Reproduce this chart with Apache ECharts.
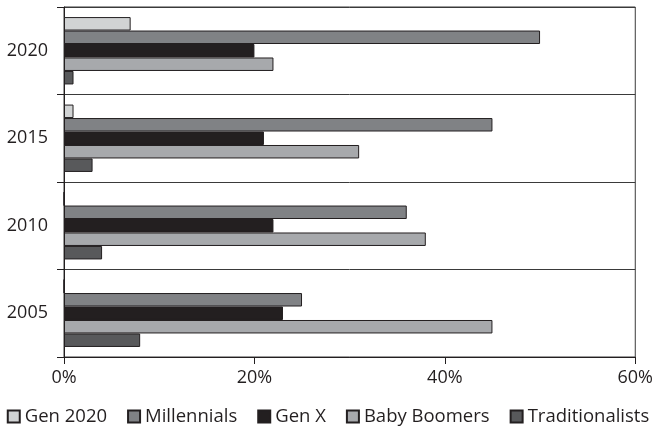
<!DOCTYPE html>
<html>
<head>
<meta charset="utf-8">
<script src="https://cdn.jsdelivr.net/npm/echarts@6/dist/echarts.min.js"></script>
<style>
  html, body { margin: 0; padding: 0; background: #fff; }
  #main { width: 656px; height: 440px; }
</style>
</head>
<body>
<div id="main"></div>
<script>
// 数据
var years = ['2020', '2015', '2010', '2005'];
var gen2020 = [7, 1, 0, 0];
var millennials = [50, 45, 36, 25];
var genX = [20, 21, 22, 23];
var babyBoomers = [22, 31, 38, 45];
var traditionalists = [1, 3, 4, 8];
var xTicks = [0, 20, 40, 60];

var ink = '#231f20';
var font = 'Open Sans';

function bar(name, data, color) {
    return {
        name: name,
        type: 'bar',
        data: data,
        barGap: '0%',
        barCategoryGap: '23%',
        itemStyle: {
            color: color,
            borderColor: ink,
            borderWidth: 1
        }
    };
}

var myChart = echarts.init(document.getElementById('main'));

var option = {
    animation: false,
    textStyle: { fontFamily: font, color: ink },
    grid: {
        left: 64,
        right: 20,
        top: 7,
        bottom: 83,
        show: true,
        borderColor: '#3a3a3a',
        borderWidth: 1
    },
    legend: {
        bottom: 9,
        left: 'center',
        itemWidth: 12,
        itemHeight: 12,
        itemGap: 20,
        icon: 'rect',
        textStyle: { fontSize: 18.5, color: ink, fontFamily: font },
        data: ['Gen 2020', 'Millennials', 'Gen X', 'Baby Boomers', 'Traditionalists']
    },
    xAxis: {
        type: 'value',
        min: xTicks[0],
        max: xTicks[xTicks.length - 1],
        interval: 20,
        axisLine: { show: true, lineStyle: { color: ink } },
        axisTick: { show: true, length: 7, lineStyle: { color: ink } },
        splitLine: { show: false },
        axisLabel: {
            formatter: '{value}%',
            fontSize: 18,
            color: ink,
            margin: 12,
            fontFamily: font
        }
    },
    yAxis: {
        type: 'category',
        inverse: true,
        data: years,
        axisLine: { show: true, lineStyle: { color: ink } },
        axisTick: { show: true, length: 7, lineStyle: { color: ink } },
        splitLine: { show: true, lineStyle: { color: '#3a3a3a', width: 1 } },
        axisLabel: { fontSize: 18, color: ink, margin: 16, fontFamily: font }
    },
    series: [
        bar('Gen 2020', gen2020, '#d1d3d4'),
        bar('Millennials', millennials, '#808285'),
        bar('Gen X', genX, '#231f20'),
        bar('Baby Boomers', babyBoomers, '#a7a9ac'),
        bar('Traditionalists', traditionalists, '#58595b')
    ]
};

myChart.setOption(option);
</script>
</body>
</html>
